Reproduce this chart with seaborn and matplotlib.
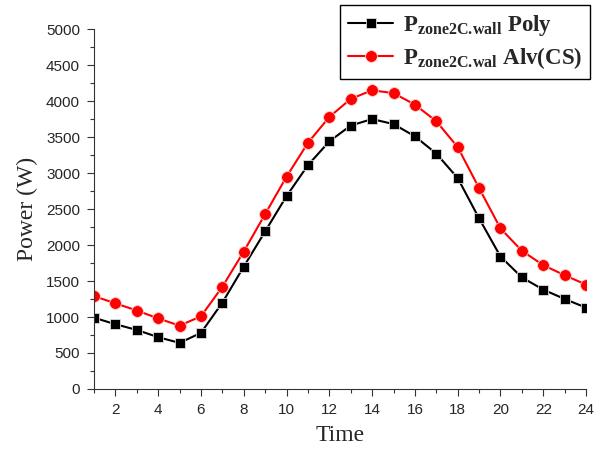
import numpy as np
import pandas as pd
import seaborn as sns
import matplotlib.pyplot as plt
from matplotlib.ticker import MultipleLocator

# hourly values
hours = list(range(1, 25))
poly = [990, 900, 820, 720, 640, 780, 1200, 1700, 2190, 2680, 3110, 3440,
        3660, 3750, 3680, 3510, 3270, 2930, 2370, 1840, 1550, 1380, 1250, 1130]
alv_cs = [1290, 1190, 1090, 980, 880, 1010, 1420, 1910, 2430, 2950, 3420, 3780,
          4030, 4150, 4110, 3950, 3720, 3360, 2790, 2230, 1920, 1720, 1580, 1450]

lab_poly = r'$\mathbf{P_{zone2C.\!wall}}$ Poly'
lab_alv = r'$\mathbf{P_{zone2C.\!wal}}$ Alv(CS)'

sns.set_style('ticks')
plt.rcParams['font.family'] = ['Liberation Sans', 'DejaVu Sans']
plt.rcParams['mathtext.fontset'] = 'custom'
plt.rcParams['mathtext.rm'] = 'Liberation Serif'
plt.rcParams['mathtext.bf'] = 'Liberation Serif:bold'

fig = plt.figure(figsize=(5.95, 4.51), dpi=100)
ax = fig.add_axes([0.158, 0.1375, 0.827, 0.798])

df = pd.DataFrame({'Time': hours, 'poly': poly, 'alv': alv_cs})

sns.lineplot(data=df, x='Time', y='poly', ax=ax, color='black', marker='s',
             markersize=7, markeredgecolor='#dddddd', markeredgewidth=0.6,
             linewidth=1.5, label=lab_poly)
sns.lineplot(data=df, x='Time', y='alv', ax=ax, color='red', marker='o',
             markersize=8.5, markeredgecolor='#ffcccc', markeredgewidth=0.6,
             linewidth=1.5, label=lab_alv)

ax.set_xlim(1, 24)
ax.set_ylim(0, 5000)
ax.xaxis.set_major_locator(MultipleLocator(2))
ax.xaxis.set_minor_locator(MultipleLocator(1))
ax.yaxis.set_major_locator(MultipleLocator(500))
ax.yaxis.set_minor_locator(MultipleLocator(250))
ax.tick_params(which='major', direction='out', length=5, width=0.8, labelsize=11,
               color='#333333', pad=5)
ax.tick_params(which='minor', direction='out', length=3, width=0.8, color='#333333')

for s in ['top', 'right']:
    ax.spines[s].set_visible(False)
for s in ['left', 'bottom']:
    ax.spines[s].set_linewidth(0.8)
    ax.spines[s].set_color('#333333')

ax.set_xlabel('Time', family='Liberation Serif', fontsize=17, labelpad=6)
ax.set_ylabel('Power (W)', family='Liberation Serif', fontsize=17, labelpad=6)

leg = ax.legend(loc='upper right', bbox_to_anchor=(590 / 595, 1 - 5 / 451),
                bbox_transform=fig.transFigure, borderaxespad=0,
                fancybox=False, framealpha=1, edgecolor='black', handlelength=2.0,
                prop={'family': 'Liberation Serif', 'weight': 'bold', 'size': 16.5},
                borderpad=0.35, labelspacing=0.3, handletextpad=0.4)
leg.get_frame().set_linewidth(1.0)

plt.savefig('out.png', dpi=100)
